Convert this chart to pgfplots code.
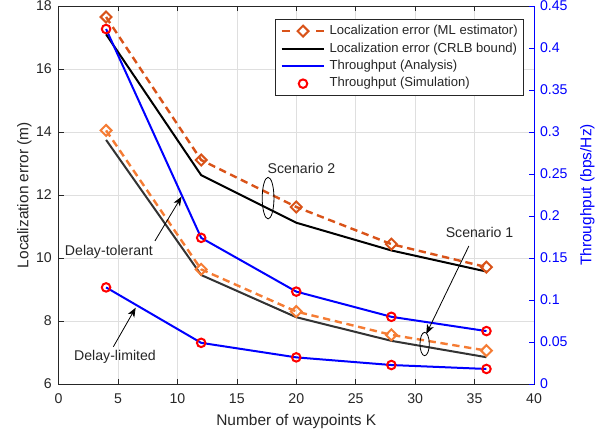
\documentclass[border=0pt]{standalone}
\usepackage{pgfplots}
\pgfplotsset{compat=1.18}
\usepackage{fontspec}
\setmainfont{Liberation Sans}
\usetikzlibrary{arrows.meta}
\definecolor{mlA}{RGB}{217,83,25}
\definecolor{mlB}{RGB}{245,124,52}
\definecolor{txt}{RGB}{38,38,38}
\definecolor{gridc}{RGB}{223,223,223}
\newcommand{\tickfont}{\fontsize{10.6}{12}\selectfont}
\begin{document}
\begin{tikzpicture}
\path[use as bounding box] (-43.9pt,-39pt) rectangle (415.85pt,288pt);
\begin{axis}[
  at={(0,0)}, anchor=south west,
  scale only axis, width=356.6pt, height=283.5pt,
  xmin=0, xmax=40, ymin=6, ymax=18,
  xtick={0,5,10,15,20,25,30,35,40}, ytick={6,8,10,12,14,16,18},
  xtick pos=both, xticklabel pos=lower, ytick pos=left,
  tick align=inside, major tick length=4pt,
  tick style={txt, line width=0.5pt},
  axis line style={txt, line width=0.5pt},
  grid=major, grid style={gridc, line width=0.5pt},
  /pgf/number format/assume math mode=true,
  tick label style={font=\tickfont, text=txt},
  xticklabel style={yshift=-4pt},
  yticklabel style={xshift=-1.5pt},
  xlabel={Number of waypoints K}, ylabel={Localization error (m)},
  label style={font=\fontsize{11.6}{13}\selectfont, text=txt},
  xlabel style={at={(axis description cs:0.5,-0.0998)}, anchor=center},
  ylabel style={at={(axis description cs:-0.072,0.5)}, anchor=center},
]
% Scenario 2
\addplot[mlA, line width=1.8pt, dash pattern=on 5.5pt off 3.5pt, mark=square, mark size=2.9pt, mark options={solid, rotate=45, line width=1.5pt}]
  coordinates {(4,17.65) (12,13.11) (20,11.62) (28,10.44) (36,9.71)};
\addplot[black, line width=1.5pt]
  coordinates {(4,17.1) (12,12.63) (20,11.12) (28,10.24) (36,9.57)};
% Scenario 1
\addplot[mlB, line width=1.8pt, dash pattern=on 5.5pt off 3.5pt, mark=square, mark size=2.9pt, mark options={solid, rotate=45, line width=1.5pt}]
  coordinates {(4,14.05) (12,9.64) (20,8.30) (28,7.56) (36,7.06)};
\addplot[black!80, line width=1.5pt]
  coordinates {(4,13.75) (12,9.46) (20,8.12) (28,7.37) (36,6.85)};
\end{axis}
\begin{axis}[
  at={(0,0)}, anchor=south west,
  scale only axis, width=356.6pt, height=283.5pt,
  xmin=0, xmax=40, ymin=0, ymax=0.45,
  axis x line=none, axis y line*=right,
  ytick={0,0.05,0.1,0.15,0.2,0.25,0.3,0.35,0.4,0.45},
  scaled y ticks=false,
  tick align=inside, major tick length=4pt,
  y axis line style={blue, line width=0.5pt},
  ytick style={blue, line width=0.5pt},
  /pgf/number format/assume math mode=true,
  yticklabel style={font=\tickfont, text=blue, xshift=1pt, /pgf/number format/fixed, /pgf/number format/precision=2},
  ylabel={Throughput (bps/Hz)},
  ylabel style={font=\fontsize{11.6}{13}\selectfont, text=blue, at={(axis description cs:1.112,0.5)}, anchor=center},
  legend image code/.code={\draw[mark repeat=2,mark phase=2,#1] plot coordinates {(0pt,0pt) (16pt,0pt) (32pt,0pt)};},
  legend style={at={(0.9775,0.9656)}, anchor=north east, draw=txt, line width=0.5pt, fill=white,
    font=\fontsize{9.8}{11}\selectfont, text=txt, inner xsep=4pt, inner ysep=4pt,
    row sep=3.6pt, column sep=3pt, nodes={inner sep=0pt, text height=7.2pt, text depth=2.3pt}},
  legend cell align=left,
]
\addlegendimage{legend image code/.code={
   \draw[mlA, line width=1.8pt] (0pt,0pt)--(6.25pt,0pt) (26pt,0pt)--(32pt,0pt);
   \draw[mlA, line width=1.5pt] (16pt,4.1pt)--(20.1pt,0pt)--(16pt,-4.1pt)--(11.9pt,0pt)--cycle;}}
\addlegendentry{Localization error (ML estimator)}
\addlegendimage{black, line width=1.5pt}
\addlegendentry{Localization error (CRLB bound)}
% Delay-tolerant
\addplot[blue, line width=1.5pt] coordinates {(4,0.4226) (12,0.174) (20,0.110) (28,0.080) (36,0.063)};
\addlegendentry{Throughput (Analysis)}
% Delay-limited
\addplot[blue, line width=1.5pt, forget plot] coordinates {(4,0.115) (12,0.049) (20,0.0317) (28,0.0226) (36,0.0179)};
\addplot[red, only marks, mark=o, mark size=3.2pt, mark options={line width=1.5pt}] coordinates {(4,0.4226) (12,0.174) (20,0.110) (28,0.080) (36,0.063)};
\addlegendentry{Throughput (Simulation)}
\addplot[red, only marks, mark=o, mark size=3.2pt, mark options={line width=1.5pt}, forget plot] coordinates {(4,0.115) (12,0.049) (20,0.0317) (28,0.0226) (36,0.0179)};
% annotations
\node[font=\tickfont, text=txt] at (axis cs:20.44,0.2569) {Scenario 2};
\draw[black, line width=0.6pt] (axis cs:17.63,0.2213) ellipse [x radius=4.4pt, y radius=15.6pt];
\node[font=\tickfont, text=txt] at (axis cs:35.42,0.1808) {Scenario 1};
\draw[black, line width=0.6pt, -{Stealth[length=7pt,width=5.5pt,inset=2pt]}] (axis cs:34.52,0.1643) -- (axis cs:30.94,0.0596);
\draw[black, line width=0.6pt] (axis cs:30.8,0.0476) ellipse [x radius=3.5pt, y radius=8.75pt];
\node[font=\tickfont, text=txt] at (axis cs:4.24,0.1579) {Delay-tolerant};
\draw[black, line width=0.6pt, -{Stealth[length=7pt,width=5.5pt,inset=2pt]}] (axis cs:8.11,0.1703) -- (axis cs:10.35,0.2231);
\node[font=\tickfont, text=txt] at (axis cs:4.75,0.0326) {Delay-limited};
\draw[black, line width=0.6pt, -{Stealth[length=7pt,width=5.5pt,inset=2pt]}] (axis cs:4.61,0.0443) -- (axis cs:6.49,0.0908);
\end{axis}
\end{tikzpicture}
\end{document}
